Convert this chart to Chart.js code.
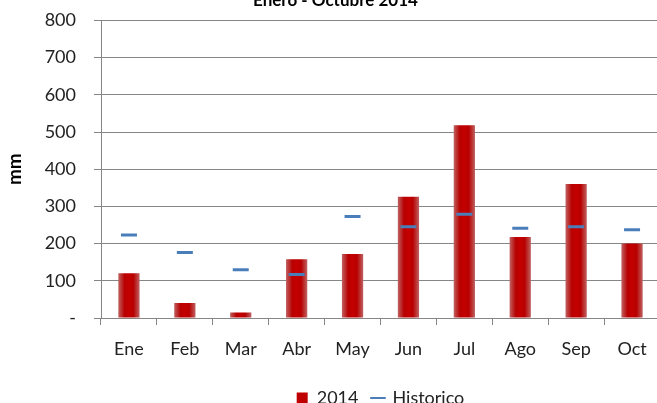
<!DOCTYPE html>
<html>
<head>
<meta charset="utf-8">
<script src="https://cdn.jsdelivr.net/npm/chart.js@4"></script>
<style>
  html, body { margin: 0; padding: 0; background: #fff; overflow: hidden; }
  #wrap { position: relative; width: 671px; height: 437px; margin-top: -20px; }
</style>
</head>
<body>
<div id="wrap"><canvas id="rainChart"></canvas></div>
<script>
const categories = ["Ene", "Feb", "Mar", "Abr", "May", "Jun", "Jul", "Ago", "Sep", "Oct"];
const values2014 = [120, 40, 15, 158, 172, 326, 518, 218, 360, 200];
const historico = [223, 176, 130, 117, 273, 245, 279, 241, 245, 237];
const yMin = 0;
const yMax = 800;
const yStep = 100;

const fontFamily = "Lato, 'Open Sans', sans-serif";

// shaded bar, lighter at the edges like the original
function barFill(ctx) {
  if (ctx.type !== "data" || !ctx.chart.scales.x) return "#c00000";
  const x = ctx.chart.scales.x.getPixelForValue(ctx.dataIndex);
  if (!Number.isFinite(x)) return "#c00000";
  const g = ctx.chart.ctx.createLinearGradient(x - 11, 0, x + 11, 0);
  g.addColorStop(0, "#c06868");
  g.addColorStop(0.3, "#b80000");
  g.addColorStop(0.5, "#c40000");
  g.addColorStop(0.7, "#b80000");
  g.addColorStop(1, "#c06868");
  return g;
}

const ctx = document.getElementById("rainChart").getContext("2d");
new Chart(ctx, {
  type: "bar",
  data: {
    labels: categories,
    datasets: [
      {
        label: "2014",
        data: values2014,
        backgroundColor: barFill,
        borderWidth: 0,
        categoryPercentage: 1,
        barPercentage: 0.38,
        order: 2
      },
      {
        type: "line",
        label: "Historico",
        data: historico,
        showLine: false,
        pointStyle: "line",
        pointRadius: 8,
        pointHoverRadius: 8,
        pointBorderWidth: 3,
        borderColor: "#4a7ebb",
        backgroundColor: "#4a7ebb",
        order: 1
      }
    ]
  },
  options: {
    responsive: true,
    maintainAspectRatio: false,
    animation: false,
    layout: { padding: 0 },
    plugins: {
      title: {
        display: true,
        text: "Enero - Octubre 2014",
        color: "#000",
        font: { family: fontFamily, size: 17, weight: "bold" },
        padding: { top: 10, bottom: 10 }
      },
      legend: {
        position: "bottom",
        fullSize: false,
        labels: {
          color: "#222",
          font: { family: fontFamily, size: 18 },
          usePointStyle: true,
          boxWidth: 11,
          boxHeight: 11,
          padding: 14,
          sort: function (a, b) { return a.datasetIndex - b.datasetIndex; },
          generateLabels: function (chart) {
            const items = Chart.defaults.plugins.legend.labels.generateLabels(chart);
            items.forEach(function (it) {
              if (it.datasetIndex === 0) {
                it.pointStyle = "rect";
                it.fillStyle = "#c00000";
                it.strokeStyle = "#c00000";
                it.lineWidth = 0;
              } else {
                it.pointStyle = "line";
                it.strokeStyle = "#4a7ebb";
                it.lineWidth = 2;
              }
            });
            return items;
          }
        }
      },
      tooltip: { enabled: false }
    },
    scales: {
      x: {
        offset: true,
        afterFit: function (scale) { scale.height = 57; },
        grid: {
          offset: true,
          drawOnChartArea: false,
          drawTicks: true,
          tickLength: 7,
          color: "#868686"
        },
        border: { display: true, color: "#868686" },
        ticks: {
          color: "#222",
          font: { family: fontFamily, size: 18 },
          padding: 13
        }
      },
      y: {
        min: yMin,
        max: yMax,
        afterFit: function (scale) { scale.width = 101; },
        title: {
          display: true,
          text: "mm",
          color: "#000",
          font: { family: fontFamily, size: 19, weight: "bold" },
          padding: { top: 3, bottom: 0 }
        },
        grid: {
          color: "#868686",
          tickLength: 7
        },
        border: { display: true, color: "#868686" },
        ticks: {
          stepSize: yStep,
          color: "#222",
          font: { family: fontFamily, size: 18 },
          padding: 18,
          callback: function (v) { return v === 0 ? "-" : v; }
        }
      }
    }
  }
});
</script>
</body>
</html>
